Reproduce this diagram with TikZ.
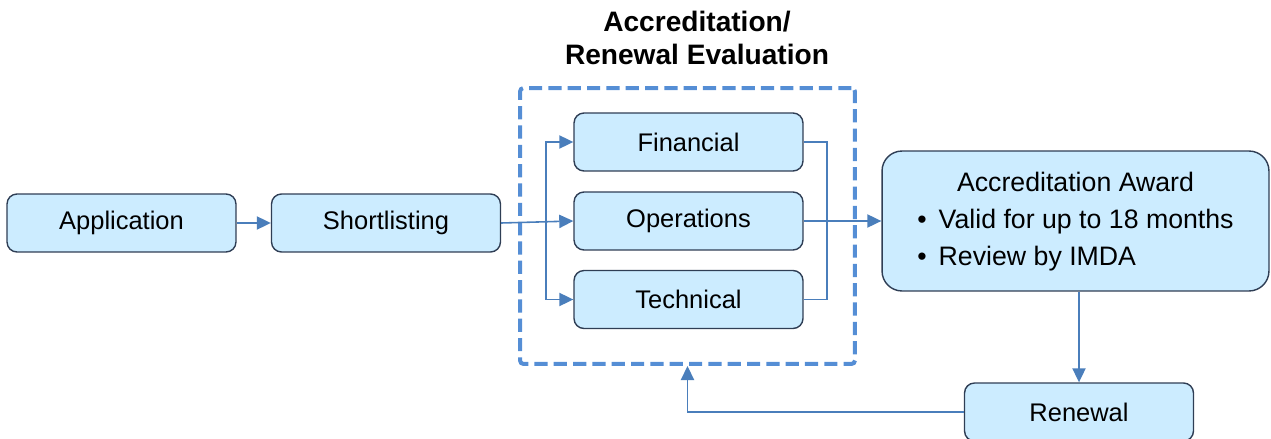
\documentclass[tikz,border=0pt]{standalone}
\usepackage{fontspec}
\setmainfont{Liberation Sans}
\usetikzlibrary{arrows.meta}
\definecolor{boxfill}{RGB}{204,236,255}
\definecolor{boxline}{RGB}{47,62,85}
\definecolor{arrowblue}{RGB}{74,126,187}
\definecolor{dashblue}{RGB}{85,142,213}
\tikzset{
  stage/.style={draw=boxline, line width=0.8pt, fill=boxfill, rounded corners=0.2cm,
    minimum width=4.58cm, minimum height=1.16cm, inner sep=0pt,
    font=\fontsize{14.5}{21}\selectfont},
  link/.style={draw=arrowblue, line width=0.9pt, -{Triangle[length=8pt,width=7.5pt]}},
  plain/.style={draw=arrowblue, line width=0.9pt},
}
\begin{document}
\begin{tikzpicture}[x=0.02cm, y=-0.02cm]
    \useasboundingbox (0,0) rectangle (1271,439);
    %evaluation frame:
    \node[draw=dashblue, line width=2.3pt, dash pattern=on 7.5pt off 3.5pt, rounded corners=2pt,
        minimum width=6.7cm, minimum height=5.52cm, inner sep=0pt] (eval) at (687.5,226) {};
    \node[font=\bfseries\fontsize{16}{19}\selectfont, align=center] (title) at (697,38) {Accreditation/\\Renewal Evaluation};

    %stages:
    \foreach \x/\y/\n/\l in {121.5/223/app/Application,386/223/short/Shortlisting,688.5/142/fin/Financial,688.5/221/ops/Operations,688.5/299.5/tech/Technical,1079/412/ren/Renewal}{
        \node[stage] (\n) at (\x,\y) {\l};
    }
    \node[stage, rounded corners=0.4cm, minimum width=7.74cm, minimum height=2.8cm,
        font=\fontsize{15.2}{21}\selectfont] (award) at (1075.5,221) {%
        \begin{tabular}{@{}l@{}}
            \multicolumn{1}{c}{Accreditation Award}\\
            \textbullet\hspace{0.45em}Valid for up to 18 months\\
            \textbullet\hspace{0.45em}Review by IMDA
        \end{tabular}};

    %connectors:
    \coordinate (split) at (546,222);
    \coordinate (merge) at (827,221);
    \draw[link] (app) -- (short);
    \draw[link] (short.east) -- (ops.west);
    \foreach \t in {fin,tech}{
        \draw[link] (split) |- (\t.west);
    }
    \draw[plain] (fin.east) -| (merge) |- (tech.east);
    \draw[link] (ops) -- (award);
    \draw[link] (ren.north |- award.south) -- (ren.north);
    \draw[link] (ren.west) -| (eval.south);
\end{tikzpicture}
\end{document}
